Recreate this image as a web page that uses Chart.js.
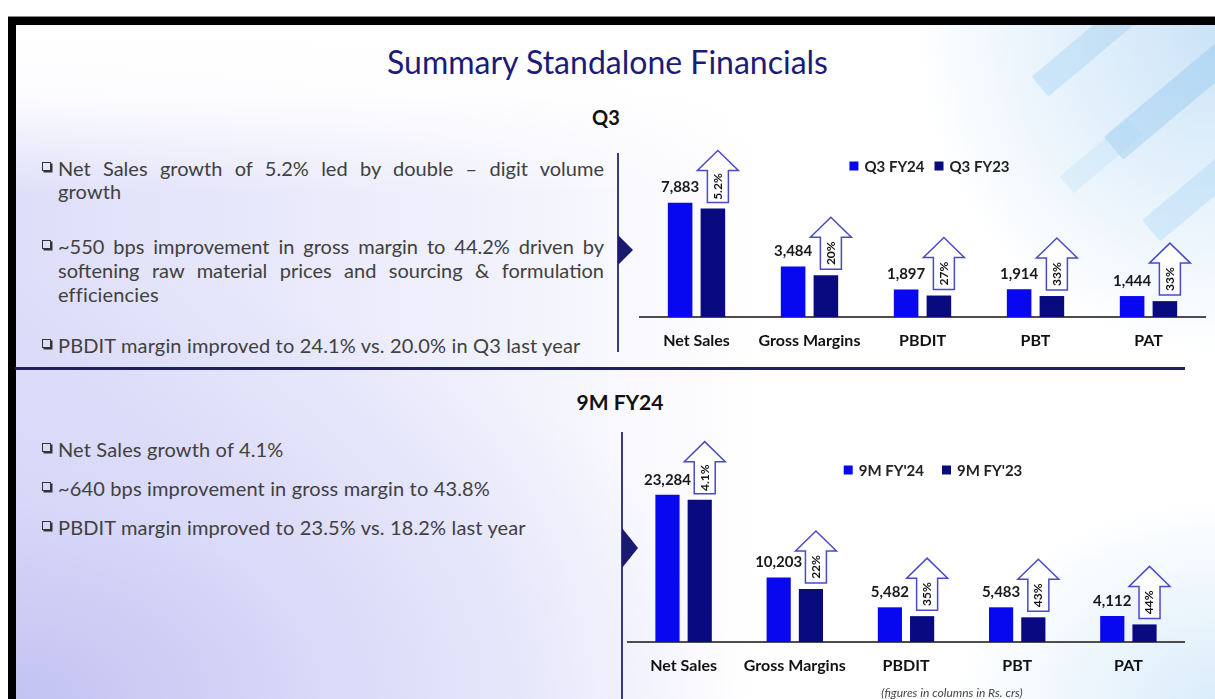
<!DOCTYPE html>
<html>
<head>
<meta charset="utf-8">
<title>Summary Standalone Financials</title>
<script src="https://cdn.jsdelivr.net/npm/chart.js@4/dist/chart.umd.min.js"></script>
<style>
  html, body { margin: 0; padding: 0; }
  body {
    width: 1215px; height: 699px; overflow: hidden; position: relative;
    background: #fff; font-family: Lato, "Open Sans", sans-serif;
  }
  .topline { position: absolute; left: 8px; right: 0; top: 16px; height: 1px; background: #8a8a8a; }
  .frame-top { position: absolute; left: 8px; right: 0; top: 17px; height: 8px; background: #000; }
  .frame-left { position: absolute; left: 8px; top: 17px; width: 8px; bottom: 0; background: #000; }
  .bg {
    position: absolute; left: 16px; top: 25px; right: 0; bottom: 0; overflow: hidden;
    background:
      radial-gradient(ellipse 300px 330px at 100% 0%, rgba(150, 200, 240, 0.5), rgba(255, 255, 255, 0) 100%),
      radial-gradient(ellipse 260px 200px at 100% 100%, rgba(175, 215, 245, 0.45), rgba(255, 255, 255, 0) 100%),
      linear-gradient(180deg, #fff 0px, rgba(255, 255, 255, 0.92) 70px, rgba(255, 255, 255, 0) 170px),
      radial-gradient(ellipse 720px 430px at 0% 100%, rgba(195, 195, 242, 1) 0%, rgba(212, 212, 248, 0.7) 45%, rgba(255, 255, 255, 0) 100%),
      linear-gradient(90deg, rgba(222, 222, 250, 1) 0%, rgba(238, 238, 252, 0.8) 40%, rgba(255, 255, 255, 0) 62%),
      #fff;
  }
  .shape { position: absolute; transform: rotate(-40deg); border-radius: 2px; }
  .title {
    position: absolute; left: 0; width: 1215px; top: 43px; text-align: center;
    font-size: 32px; line-height: 38px; color: #1c1c78;
  }
  .head { position: absolute; font-weight: bold; color: #111; text-align: center; }
  .line {
    position: absolute; left: 58px; width: 546px; font-size: 20px; line-height: 24px;
    letter-spacing: 0.15px; color: #404040; white-space: nowrap;
  }
  .line.just { text-align: justify; text-align-last: justify; white-space: normal; letter-spacing: 0; }
  .chk {
    position: absolute; left: 42px; width: 7px; height: 7px;
    border: 1.5px solid #333; box-shadow: 1.5px 1.5px 0 #333;
  }
  .vsep { position: absolute; width: 2px; background: #3a3a80; }
  .tri {
    position: absolute; width: 0; height: 0;
    border-top: 15px solid transparent; border-bottom: 15px solid transparent;
    border-left: 15px solid #1a1a6e;
  }
  .hsep { position: absolute; left: 15px; width: 1170px; top: 367px; height: 3px; background: #20205e; }
  canvas { position: absolute; }
  .note {
    position: absolute; left: 852px; width: 200px; top: 685px; text-align: center;
    font-size: 12px; font-style: italic; color: #444;
  }
</style>
</head>
<body>
<div class="topline"></div>
<div class="frame-top"></div>
<div class="frame-left"></div>
<div class="bg">
  <div class="shape" style="left:1010px; top:10px; width:120px; height:26px; background:rgba(140,195,240,0.3);"></div>
  <div class="shape" style="left:1080px; top:60px; width:150px; height:30px; background:rgba(120,185,235,0.3);"></div>
  <div class="shape" style="left:1120px; top:150px; width:130px; height:28px; background:rgba(150,205,242,0.3);"></div>
  <div class="shape" style="left:1040px; top:120px; width:90px; height:22px; background:rgba(170,215,245,0.25);"></div>
</div>

<div class="title">Summary Standalone Financials</div>
<div class="head" style="left:556px; width:100px; top:105px; font-size:20px;">Q3</div>
<div class="head" style="left:560px; width:120px; top:389px; font-size:21px;">9M FY24</div>

<!-- Q3 commentary -->
<div class="chk" style="top:162px;"></div>
<div class="line just" style="top:156px;">Net Sales growth of 5.2% led by double – digit volume</div>
<div class="line" style="top:179px;">growth</div>
<div class="chk" style="top:240px;"></div>
<div class="line just" style="top:234px;">~550 bps improvement in gross margin to 44.2% driven by</div>
<div class="line just" style="top:258px;">softening raw material prices and sourcing &amp; formulation</div>
<div class="line" style="top:282px;">efficiencies</div>
<div class="chk" style="top:339px;"></div>
<div class="line" style="top:333px;">PBDIT margin improved to 24.1% vs. 20.0% in Q3 last year</div>

<!-- 9M commentary -->
<div class="chk" style="top:443px;"></div>
<div class="line" style="top:437px;">Net Sales growth of 4.1%</div>
<div class="chk" style="top:482px;"></div>
<div class="line" style="top:476px;">~640 bps improvement in gross margin to 43.8%</div>
<div class="chk" style="top:521px;"></div>
<div class="line" style="top:515px;">PBDIT margin improved to 23.5% vs. 18.2% last year</div>

<div class="vsep" style="left:617px; top:153px; height:199px;"></div>
<div class="tri" style="left:618px; top:235px;"></div>
<div class="hsep"></div>
<div class="vsep" style="left:621px; top:432px; height:267px;"></div>
<div class="tri" style="left:622px; top:528px; border-top-width:20px; border-bottom-width:20px; border-left-width:16px;"></div>

<canvas id="q3Chart" width="595" height="230" style="left:620px; top:130px;"></canvas>
<canvas id="nineChart" width="595" height="279" style="left:620px; top:420px;"></canvas>
<div class="note">(figures in columns in Rs. crs)</div>

<script>
// Data (Rs. crs)
const categories = ["Net Sales", "Gross Margins", "PBDIT", "PBT", "PAT"];

const q3Labels = ["Q3 FY24", "Q3 FY23"];
const q3Current = [7883, 3484, 1897, 1914, 1444];
const q3Previous = [7475, 2880, 1480, 1445, 1095];
const q3Growth = ["5.2%", "20%", "27%", "33%", "33%"];

const nineLabels = ["9M FY'24", "9M FY'23"];
const nineCurrent = [23284, 10203, 5482, 5483, 4112];
const ninePrevious = [22500, 8380, 4090, 3900, 2780];
const nineGrowth = ["4.1%", "22%", "35%", "43%", "44%"];

const CURRENT_COLOR = "#0808f0";
const PREVIOUS_COLOR = "#0a0a80";

Chart.defaults.font.family = "Lato";

// legend drawn inside the plot, one row, off-centre like the slide
const inlineLegend = {
  id: "inlineLegend",
  afterDraw(chart, args, opts) {
    const ctx = chart.ctx;
    const area = chart.chartArea;
    const sets = chart.data.datasets;
    ctx.save();
    ctx.font = "bold 15px Lato";
    ctx.textBaseline = "middle";
    const widths = sets.map((ds) => 9 + 6 + ctx.measureText(ds.label).width);
    const total = widths.reduce((a, b) => a + b, 0) + opts.itemGap * (sets.length - 1);
    let x = (area.left + area.right) / 2 + opts.dx - total / 2;
    const y = area.top + opts.dy;
    sets.forEach((ds, i) => {
      ctx.fillStyle = ds.backgroundColor;
      ctx.fillRect(x, y - 4.5, 9, 9);
      ctx.fillStyle = "#222";
      ctx.fillText(ds.label, x + 15, y + 1);
      x += widths[i] + opts.itemGap;
    });
    ctx.restore();
  },
};

// value label over the current-year bar
const valueLabels = {
  id: "valueLabels",
  afterDatasetsDraw(chart) {
    const ctx = chart.ctx;
    const values = chart.data.datasets[0].data;
    ctx.save();
    ctx.font = "bold 15px Lato";
    ctx.fillStyle = "#1a1a1a";
    ctx.textAlign = "center";
    ctx.textBaseline = "middle";
    chart.getDatasetMeta(0).data.forEach((bar, i) => {
      ctx.fillText(values[i].toLocaleString("en-US"), bar.x, bar.y - 15);
    });
    ctx.restore();
  },
};

// block arrow with the growth figure over the previous-year bar
const growthArrows = {
  id: "growthArrows",
  afterDatasetsDraw(chart, args, opts) {
    const ctx = chart.ctx;
    const headH = 20, headW = 41, shaftW = 21, total = 52;
    chart.getDatasetMeta(1).data.forEach((bar, i) => {
      const cx = bar.x + 5;
      const bottom = bar.y - 6;
      const top = bottom - total;
      ctx.save();
      ctx.beginPath();
      ctx.moveTo(cx - shaftW / 2, bottom);
      ctx.lineTo(cx - shaftW / 2, top + headH);
      ctx.lineTo(cx - headW / 2, top + headH);
      ctx.lineTo(cx, top);
      ctx.lineTo(cx + headW / 2, top + headH);
      ctx.lineTo(cx + shaftW / 2, top + headH);
      ctx.lineTo(cx + shaftW / 2, bottom);
      ctx.closePath();
      ctx.fillStyle = "#fff";
      ctx.fill();
      ctx.strokeStyle = "#4a4ac8";
      ctx.lineWidth = 1.5;
      ctx.stroke();

      ctx.translate(cx, (top + headH + bottom) / 2);
      ctx.rotate(-Math.PI / 2);
      ctx.font = "bold 12px Lato";
      ctx.fillStyle = "#111";
      ctx.textAlign = "center";
      ctx.textBaseline = "middle";
      ctx.fillText(opts.growth[i], 0, 0);
      ctx.restore();
    });
  },
};

function buildChart(canvasId, labels, current, previous, growth, cfg) {
  return new Chart(document.getElementById(canvasId), {
    type: "bar",
    data: {
      labels: categories,
      datasets: [
        { label: labels[0], data: current, backgroundColor: CURRENT_COLOR },
        { label: labels[1], data: previous, backgroundColor: PREVIOUS_COLOR },
      ],
    },
    options: {
      responsive: false,
      animation: false,
      categoryPercentage: 0.58,
      barPercentage: 0.75,
      layout: { padding: cfg.padding },
      scales: {
        x: {
          grid: { display: false, drawTicks: false },
          border: { display: true, color: "#4d4d4d", width: 2 },
          ticks: {
            color: "#111",
            padding: cfg.tickPadding,
            font: { size: 16, weight: "bold" },
          },
          afterFit: (scale) => { scale.height = cfg.axisHeight; },
        },
        y: { display: false, min: 0, max: cfg.yMax },
      },
      plugins: {
        tooltip: { enabled: false },
        legend: { display: false },
        inlineLegend: { dx: cfg.legendDx, dy: cfg.legendDy, itemGap: cfg.legendGap },
        growthArrows: { growth },
      },
    },
    plugins: [valueLabels, growthArrows, inlineLegend],
  });
}

buildChart("q3Chart", q3Labels, q3Current, q3Previous, q3Growth, {
  padding: { left: 20, right: 10, top: 18, bottom: 0 },
  axisHeight: 43,
  tickPadding: 14,
  yMax: 11650,
  legendDx: 7,
  legendDy: 18,
  legendGap: 10,
});

buildChart("nineChart", nineLabels, nineCurrent, ninePrevious, nineGrowth, {
  padding: { left: 8, right: 31, top: 24, bottom: 0 },
  axisHeight: 57,
  tickPadding: 14,
  yMax: 31300,
  legendDx: 27,
  legendDy: 26,
  legendGap: 18,
});
</script>
</body>
</html>
